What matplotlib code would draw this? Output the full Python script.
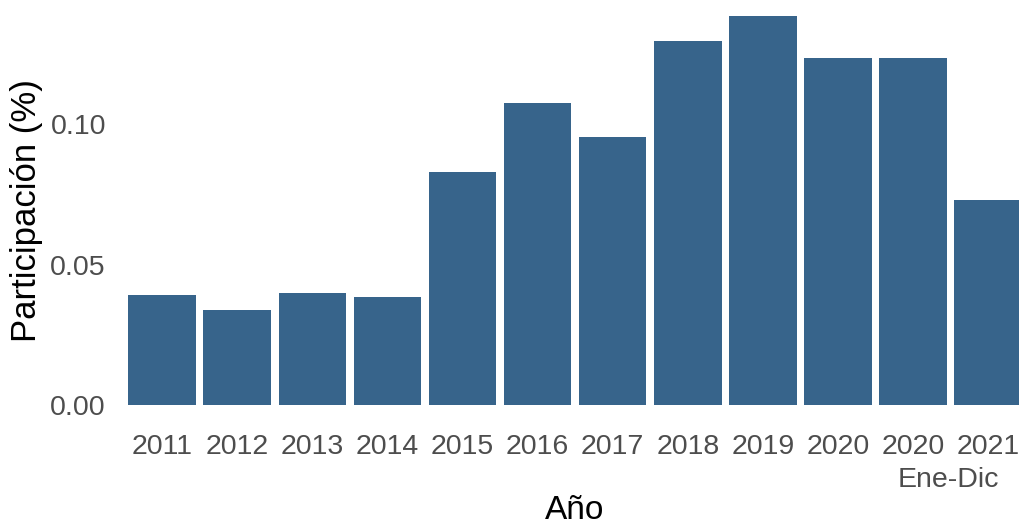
import numpy as np
import matplotlib.pyplot as plt
import matplotlib.transforms as mtransforms

plt.rcParams["font.family"] = ["Liberation Sans", "DejaVu Sans"]

years = ["2011", "2012", "2013", "2014", "2015", "2016", "2017",
         "2018", "2019", "2020", "2020", "2021"]
notes = ["", "", "", "", "", "", "", "", "", "", "Ene-Dic", ""]
share = [0.0392, 0.0338, 0.0399, 0.0384, 0.0829, 0.1078, 0.0957,
         0.1299, 0.1388, 0.1237, 0.1237, 0.0730]

fig = plt.figure(figsize=(10.19, 5.25), dpi=100)
ax = fig.add_axes([0.1149, 0.1914, 0.899, 0.816])

x = np.arange(len(years))
ax.bar(x, share, width=0.9, color="#37648b")

ax.set_xlim(-0.6, len(years) - 0.4)
top = max(share) * 1.05
ax.set_ylim(-max(share) * 0.05, top)
ax.set_xticks(x)
ax.set_xticklabels(years)
ax.set_yticks([0.0, 0.05, 0.10])
ax.set_yticklabels(["0.00", "0.05", "0.10"])
ax.tick_params(axis="both", length=0, labelsize=20.5, labelcolor="#4d4d4d")
ax.tick_params(axis="x", pad=7)
ax.tick_params(axis="y", pad=8)
for s in ax.spines.values():
    s.set_visible(False)

# second line under the "2020" label, shifted right like the original
trans = mtransforms.blended_transform_factory(ax.transData, fig.transFigure)
for xi, note in zip(x, notes):
    if note:
        ax.text(xi + 0.47, 1 - 480 / 525, note, transform=trans, ha="center",
                va="center", fontsize=20.5, color="#4d4d4d", clip_on=False)

ax.set_xlabel("Año", fontsize=24)
ax.xaxis.set_label_coords(575 / 1019, 1 - 495 / 525, transform=fig.transFigure)
ax.set_ylabel("Participación (%)", fontsize=25, labelpad=5)

fig.savefig("out.png", dpi=100)
